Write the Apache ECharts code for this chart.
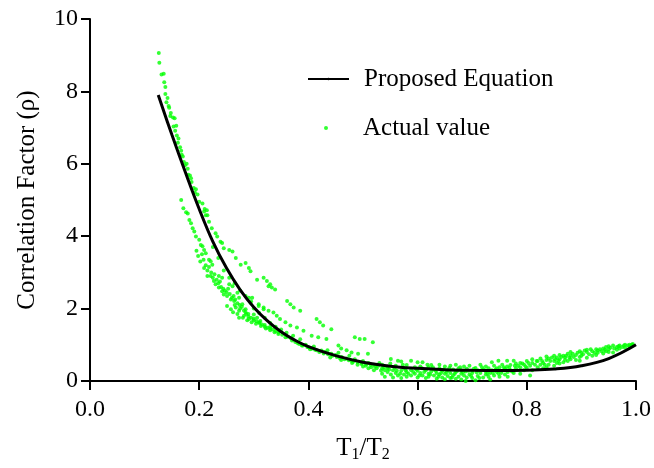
<!DOCTYPE html>
<html>
<head>
<meta charset="utf-8">
<script src="https://cdn.jsdelivr.net/npm/echarts@6/dist/echarts.min.js"></script>
<style>
  html, body { margin: 0; padding: 0; background: #fff; }
  #main { width: 654px; height: 468px; }
</style>
</head>
<body>
<div id="main"></div>
<script>
// 曲线 (Proposed Equation)
var curveX = [0.125, 0.15, 0.175, 0.2, 0.225, 0.25, 0.275, 0.3, 0.325, 0.35, 0.375, 0.4,
              0.45, 0.5, 0.55, 0.6, 0.65, 0.7, 0.75, 0.8, 0.85, 0.9, 0.95, 1.0];
var curveY = [7.9, 6.8, 5.75, 4.75, 3.85, 3.12, 2.52, 2.04, 1.66, 1.36, 1.13, 0.95,
              0.7, 0.52, 0.41, 0.35, 0.31, 0.295, 0.29, 0.3, 0.33, 0.42, 0.62, 1.0];

// 散点 (Actual value)，按区域分开
var actualTop = [
  [0.126,9.06],[0.127,8.79],[0.131,8.47],[0.135,8.49],[0.136,8.25],[0.138,8.12],[0.138,7.93],
  [0.142,7.82],[0.144,7.6],[0.145,7.55],[0.147,7.32],[0.152,7.28],[0.155,7.26],[0.153,7.03],
  [0.158,7.05],[0.156,6.91],[0.159,6.78],[0.161,6.58],[0.165,6.46],[0.167,6.36],[0.168,6.25],
  [0.172,6.05],[0.174,5.96],[0.179,5.86],[0.18,5.7],[0.183,5.68],[0.186,5.5],[0.19,5.33],
  [0.194,5.3],[0.192,5.21],[0.197,5.15],[0.2,4.95],[0.206,4.9],[0.21,4.75],[0.214,4.72],
  [0.215,4.58],[0.209,4.68],[0.212,4.58],[0.218,4.4],[0.223,4.22],[0.23,4.08],[0.233,3.99],
  [0.239,3.85],[0.242,3.81],[0.245,3.67],[0.255,3.62],[0.261,3.58],[0.267,3.4],[0.276,3.21],
  [0.285,3.26],[0.291,3.12],[0.294,3.03],[0.306,2.8],[0.318,2.85],[0.324,2.76],[0.327,2.62],
  [0.33,2.67],[0.333,2.58],[0.339,2.53],[0.361,2.21],[0.367,2.12],[0.373,2.03],[0.385,1.94],
  [0.415,1.71],[0.421,1.62],[0.427,1.53],[0.442,1.43],[0.485,1.21],[0.494,1.16],[0.503,1.16],
  [0.518,1.07],[0.14,7.7],[0.148,7.4],[0.162,6.7],[0.17,6.2],[0.177,6.0],[0.185,5.6]
];
var actualLeft = [
  [0.167,5.0],[0.171,4.77],[0.176,4.66],[0.179,4.63],[0.182,4.45],[0.185,4.36],[0.188,4.22],
  [0.191,4.13],[0.194,3.99],[0.2,3.9],[0.203,3.76],[0.206,3.72],[0.209,3.62],[0.212,3.53],
  [0.218,3.35],[0.221,3.31],[0.224,3.21],[0.209,3.12],[0.215,2.9],[0.221,2.9],[0.227,2.76],
  [0.23,2.67],[0.236,2.9],[0.242,2.85],[0.236,2.58],[0.242,2.48],[0.245,2.39],[0.251,2.35],
  [0.255,2.67],[0.261,2.62],[0.258,2.25],[0.264,2.21],[0.27,2.44],[0.273,2.3],[0.251,2.07],
  [0.258,1.98],[0.267,2.03],[0.273,1.94],[0.279,2.12],[0.285,1.98],[0.291,2.3],[0.294,2.16],
  [0.282,1.8],[0.291,1.71],[0.3,1.84],[0.306,1.75],[0.312,1.66],[0.309,2.07],[0.318,1.98],
  [0.273,1.75],[0.336,1.89],[0.342,1.8],[0.297,2.3],[0.309,2.12],[0.318,2.03],[0.327,1.94],
  [0.348,1.71],[0.358,1.62],[0.367,1.53],[0.379,1.48],[0.391,1.39],[0.406,1.25],[0.418,1.21],
  [0.433,1.16],[0.455,0.98],[0.262,1.9],[0.27,1.85],[0.28,1.75],[0.288,1.68],[0.296,1.62],
  [0.304,1.58],[0.313,1.52],[0.322,1.45],[0.33,1.4],[0.338,1.35],[0.29,1.85],[0.3,1.72],
  [0.31,1.62],[0.32,1.55],[0.33,1.5],[0.265,2.1],[0.275,2.0],[0.285,1.9]
];
var actualCluster = [
  [0.195,3.6],[0.198,3.45],[0.202,3.3],[0.205,3.5],[0.208,3.35],[0.212,3.2],[0.215,3.05],
  [0.218,3.15],[0.222,3.0],[0.225,2.85],[0.228,2.95],[0.232,2.8],[0.235,2.7],[0.238,2.75],
  [0.24,2.6],[0.244,2.55],[0.247,2.5],[0.25,2.45],[0.253,2.55],[0.256,2.4],[0.26,2.3],
  [0.263,2.35],[0.266,2.25],[0.27,2.15],[0.274,2.1],[0.278,2.05],[0.282,1.95],[0.286,1.85],
  [0.29,1.78],[0.295,1.75],[0.3,1.68],[0.305,1.65],[0.31,1.6],[0.315,1.56],[0.32,1.5],
  [0.325,1.47],[0.33,1.45],[0.335,1.42],[0.34,1.38],[0.345,1.3],[0.225,3.7],[0.235,3.4],
  [0.245,3.05],[0.255,2.85],[0.265,2.7],[0.275,2.5],[0.285,2.35],[0.295,2.2]
];
var actualMid = [
  [0.3,2.0],[0.31,1.88],[0.32,1.75],[0.33,1.6],[0.34,1.5],[0.345,1.34],[0.35,1.42],[0.358,1.21],
  [0.36,1.33],[0.37,1.12],[0.372,1.25],[0.38,1.05],[0.385,1.15],[0.388,0.98],[0.395,1.0],
  [0.4,0.93],[0.406,0.89],[0.41,0.95],[0.415,0.85],[0.424,0.84],[0.43,0.8],[0.435,0.85],
  [0.442,0.75],[0.45,0.72],[0.455,0.78],[0.461,0.66],[0.47,0.62],[0.475,0.7],[0.479,0.56],
  [0.479,0.79],[0.485,0.6],[0.491,0.75],[0.497,0.47],[0.5,0.55],[0.505,0.42],[0.509,0.75],
  [0.51,0.5],[0.515,0.38],[0.52,0.45],[0.525,0.35],[0.53,0.5],[0.533,0.29],[0.44,0.65],
  [0.46,0.58],[0.48,0.5],[0.49,0.45],[0.5,0.4],[0.47,0.85],[0.46,0.9],
  [0.352,1.28],[0.362,1.22],[0.368,1.18],[0.376,1.08],[0.383,1.02],[0.39,0.98],[0.398,0.94],
  [0.403,0.88],[0.412,0.86],[0.42,0.8],[0.428,0.76],[0.436,0.74],[0.444,0.7],[0.452,0.66],
  [0.458,0.62],[0.466,0.6],[0.474,0.57],[0.482,0.53],[0.49,0.52],[0.498,0.5],[0.506,0.46],
  [0.514,0.44],[0.522,0.4],[0.528,0.42],[0.52,0.3],[0.51,0.35],[0.545,0.35],[0.55,0.48]
];
var actualLow = [
  [0.535,0.2],[0.535,0.35],[0.535,0.45],[0.54,0.12],[0.54,0.3],[0.545,0.25],[0.545,0.4],
  [0.551,0.61],[0.551,0.18],[0.555,0.3],[0.555,0.1],[0.56,0.22],[0.56,0.42],[0.564,0.56],
  [0.564,0.15],[0.57,0.54],[0.57,0.28],[0.57,0.08],[0.575,0.35],[0.575,0.18],[0.58,0.25],
  [0.58,0.12],[0.58,0.44],[0.588,0.56],[0.588,0.3],[0.588,0.15],[0.595,0.2],[0.595,0.38],
  [0.6,0.52],[0.6,0.1],[0.6,0.28],[0.605,0.22],[0.605,0.4],[0.609,0.52],[0.609,0.15],
  [0.615,0.3],[0.615,0.08],[0.62,0.2],[0.62,0.38],[0.62,0.12],[0.625,0.26],[0.625,0.44],
  [0.63,0.15],[0.63,0.32],[0.635,0.06],[0.635,0.22],[0.64,0.35],[0.64,0.18],[0.64,0.45],
  [0.645,0.1],[0.645,0.28],[0.65,0.2],[0.65,0.4],[0.65,0.05],[0.655,0.3],[0.655,0.14],
  [0.66,0.22],[0.66,0.08],[0.66,0.42],[0.665,0.32],[0.665,0.16],[0.67,0.25],[0.67,0.06],
  [0.67,0.45],[0.675,0.12],[0.675,0.35],[0.68,0.2],[0.68,0.3],[0.68,0.04],[0.685,0.15],
  [0.685,0.4],[0.688,0.0],[0.688,0.26],[0.69,0.1],[0.69,0.34],[0.695,0.18],[0.695,0.42],
  [0.7,0.08],[0.7,0.28],[0.7,0.22],[0.706,0.02],[0.706,0.36],[0.71,0.14],[0.71,0.3],
  [0.715,0.22],[0.715,0.45],[0.72,0.1],[0.72,0.32],[0.725,0.18],[0.725,0.4],[0.725,0.26],
  [0.73,0.12],[0.73,0.35],[0.733,0.04],[0.733,0.22],[0.736,0.52],[0.736,0.3],[0.74,0.15],
  [0.74,0.42],[0.745,0.25],[0.745,0.35],[0.748,0.56],[0.748,0.2],[0.75,0.12],[0.75,0.38],
  [0.755,0.28],[0.755,0.45],[0.76,0.18],[0.76,0.34],[0.764,0.56],[0.764,0.4],[0.765,0.25],
  [0.765,0.12],[0.77,0.3],[0.77,0.44],[0.776,0.56],[0.776,0.22],[0.78,0.35],[0.78,0.48],
  [0.538,0.38],[0.548,0.32],[0.558,0.36],[0.562,0.28],[0.568,0.2],[0.573,0.45],[0.578,0.3],
  [0.583,0.2],[0.592,0.25],[0.598,0.32],[0.603,0.15],[0.608,0.35],[0.612,0.25],[0.618,0.45],
  [0.623,0.18],[0.628,0.38],[0.633,0.28],[0.638,0.12],[0.643,0.22],[0.648,0.32],[0.653,0.24],
  [0.658,0.36],[0.663,0.1],[0.668,0.2],[0.673,0.28],[0.678,0.38],[0.683,0.24],[0.693,0.28],
  [0.698,0.14],[0.703,0.34],[0.708,0.24],[0.713,0.08],[0.718,0.38],[0.723,0.3],[0.728,0.2],
  [0.738,0.22],[0.743,0.32],[0.753,0.22],[0.758,0.38],[0.762,0.3],[0.768,0.36],[0.773,0.26],
  [0.778,0.42]
];
var actualRight = [
  [0.788,0.2],[0.788,0.38],[0.788,0.5],[0.795,0.3],[0.795,0.45],[0.8,0.36],[0.8,0.55],
  [0.806,0.15],[0.806,0.42],[0.81,0.3],[0.81,0.5],[0.81,0.6],[0.82,0.38],[0.82,0.55],
  [0.825,0.45],[0.825,0.62],[0.83,0.35],[0.83,0.5],[0.836,0.38],[0.836,0.58],[0.836,0.68],
  [0.84,0.45],[0.84,0.62],[0.85,0.42],[0.85,0.55],[0.85,0.7],[0.855,0.5],[0.855,0.65],
  [0.86,0.48],[0.86,0.6],[0.86,0.72],[0.867,0.52],[0.867,0.7],[0.87,0.58],[0.87,0.65],
  [0.875,0.55],[0.875,0.75],[0.88,0.6],[0.88,0.7],[0.88,0.8],[0.89,0.58],[0.89,0.72],
  [0.897,0.56],[0.897,0.66],[0.897,0.82],[0.9,0.7],[0.9,0.78],[0.91,0.64],[0.91,0.8],
  [0.91,0.86],[0.92,0.7],[0.92,0.82],[0.927,0.72],[0.927,0.88],[0.93,0.78],[0.93,0.84],
  [0.94,0.76],[0.94,0.9],[0.945,0.82],[0.945,0.94],[0.95,0.8],[0.95,0.88],[0.95,0.96],
  [0.958,0.79],[0.958,0.98],[0.965,0.86],[0.965,0.94],[0.97,0.9],[0.97,0.98],[0.98,0.92],
  [0.98,1.0],[0.988,0.95],[0.988,1.0],[0.994,1.02],[0.994,0.98],
  [0.784,0.42],[0.792,0.48],[0.798,0.4],[0.803,0.5],[0.815,0.45],[0.818,0.55],[0.828,0.55],
  [0.833,0.45],[0.843,0.55],[0.846,0.65],[0.852,0.6],[0.858,0.56],[0.863,0.66],[0.872,0.7],
  [0.878,0.65],[0.884,0.75],[0.886,0.66],[0.893,0.78],[0.903,0.74],[0.906,0.84],[0.914,0.74],
  [0.917,0.88],[0.924,0.78],[0.934,0.88],[0.937,0.82],[0.943,0.86],[0.953,0.92],[0.96,0.9],
  [0.968,0.96],[0.975,0.94],[0.978,0.98],[0.985,0.98],[0.992,1.0]
];

var font = "'Liberation Serif', 'Times New Roman', serif";
var chart = echarts.init(document.getElementById('main'));

var curveData = [];
for (var i = 0; i < curveX.length; i++) {
  curveData.push([curveX[i], curveY[i]]);
}
var actualData = actualTop.concat(actualLeft, actualCluster, actualMid, actualLow, actualRight);

var option = {
  backgroundColor: '#fff',
  animation: false,
  grid: { left: 90, right: 14, top: 19, bottom: 84 },
  legend: [{
    data: ['Proposed Equation'],
    orient: 'vertical',
    left: 302,
    top: 59,
    itemWidth: 41,
    itemHeight: 3,
    textStyle: { fontFamily: font, fontSize: 25, color: '#000', lineHeight: 30, padding: [0, 0, 0, 10] }
  }, {
    data: ['Actual value'],
    orient: 'vertical',
    left: 319,
    top: 108,
    icon: 'circle',
    itemWidth: 4,
    itemHeight: 4,
    textStyle: { fontFamily: font, fontSize: 25, color: '#000', lineHeight: 30, padding: [0, 0, 0, 30] }
  }],
  xAxis: {
    type: 'value',
    min: 0,
    max: 1,
    interval: 0.2,
    name: 'T{sub|1}/T{sub|2}',
    nameLocation: 'middle',
    nameGap: 52,
    nameTextStyle: {
      fontFamily: font, fontSize: 25, color: '#000',
      rich: { sub: { fontFamily: font, fontSize: 16, color: '#000', verticalAlign: 'bottom', padding: [14, 0, 0, 0] } }
    },
    axisLine: { show: true, lineStyle: { color: '#000', width: 2 } },
    axisTick: { show: true, length: 9, lineStyle: { color: '#000', width: 2 } },
    axisLabel: {
      fontFamily: font, fontSize: 24, color: '#000', margin: 17,
      formatter: function (v) { return v.toFixed(1); }
    },
    splitLine: { show: false }
  },
  yAxis: {
    type: 'value',
    min: 0,
    max: 10,
    interval: 2,
    name: 'Correlation Factor (ρ)',
    nameLocation: 'middle',
    nameGap: 50,
    nameTextStyle: { fontFamily: font, fontSize: 25, color: '#000' },
    axisLine: { show: true, lineStyle: { color: '#000', width: 2 } },
    axisTick: { show: true, length: 9, lineStyle: { color: '#000', width: 2 } },
    axisLabel: { fontFamily: font, fontSize: 24, color: '#000', margin: 12 },
    splitLine: { show: false }
  },
  series: [{
    name: 'Actual value',
    type: 'scatter',
    data: actualData,
    symbolSize: 4,
    itemStyle: { color: '#00ff00' },
    z: 2
  }, {
    name: 'Proposed Equation',
    type: 'line',
    data: curveData,
    showSymbol: false,
    symbol: 'none',
    smooth: 0.4,
    lineStyle: { color: '#000', width: 3 },
    itemStyle: { color: '#000' },
    z: 3
  }]
};

chart.setOption(option);
</script>
</body>
</html>
